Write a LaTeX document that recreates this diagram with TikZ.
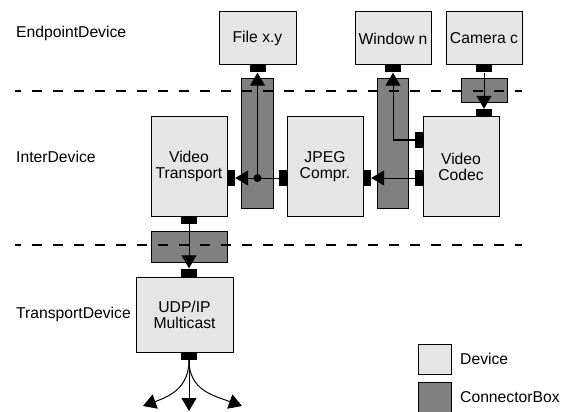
\documentclass[tikz,border=0pt]{standalone}
\usepackage{fontspec}
\setmainfont{Liberation Sans}
\usetikzlibrary{arrows.meta}
\definecolor{devfill}{gray}{0.9}
\definecolor{boxfill}{gray}{0.5}

\begin{document}
\begin{tikzpicture}[x=1pt,y=-1pt,
    device/.style={draw,line width=1pt,fill=devfill,inner sep=0pt,align=center,
      font=\fontsize{15.7}{16}\selectfont},
    conbox/.style={draw,line width=1pt,fill=boxfill,inner sep=0pt},
    hport/.style={fill=black,inner sep=0pt,minimum width=16pt,minimum height=8pt},
    vport/.style={fill=black,inner sep=0pt,minimum width=8pt,minimum height=16pt},
    layer/.style={anchor=west,inner sep=0pt,font=\fontsize{15.7}{16}\selectfont},
    link/.style={line width=1pt,-{Triangle[length=13pt,width=15pt]}},
    sep/.style={line width=1.2pt,dash pattern=on 10.5pt off 10.5pt,dash phase=4.5pt}]
    \useasboundingbox (0,0) rectangle (571,412);

    \node[conbox,minimum width=32pt,minimum height=129pt] (fileBox) at (257,143.5) {};
    \node[conbox,minimum width=31pt,minimum height=129pt] (winBox) at (392.5,143.5) {};
    \node[conbox,minimum width=46pt,minimum height=24pt] (camBox) at (484,91) {};
    \node[conbox,minimum width=76pt,minimum height=31pt] (netBox) at (189,246.5) {};

    \draw[sep] (15,91) -- (522,91);
    \draw[sep] (15,245) -- (522,245);

    \node[layer] (endLbl) at (16,33) {EndpointDevice};
    \node[layer] (interLbl) at (16,157) {InterDevice};
    \node[layer] (transLbl) at (16,314) {TransportDevice};

    \node[device,minimum width=77pt,minimum height=53pt] (file) at (257.5,38.5) {File x.y};
    \node[device,minimum width=76pt,minimum height=53pt] (window) at (393,38.5) {Window n};
    \node[device,minimum width=76pt,minimum height=53pt] (camera) at (484,38.5) {Camera c};
    \node[device,minimum width=76pt,minimum height=99pt] (transport) at (189,166.5) {Video\\Transport};
    \node[device,minimum width=76pt,minimum height=99pt] (jpeg) at (325,166.5) {JPEG\\Compr.};
    \node[device,minimum width=76pt,minimum height=99pt] (codec) at (461,166.5) {Video\\Codec};
    \node[device,minimum width=97pt,minimum height=75pt] (udp) at (184.5,314.5) {UDP/IP\\Multicast};

    \node[hport] (fileP) at (257.5,68.5) {};
    \node[hport] (winP) at (393,68.5) {};
    \node[hport] (camP) at (484,68.5) {};
    \node[hport] (codecT) at (484,113) {};
    \node[vport] (codecA) at (419,140) {};
    \node[vport] (codecB) at (419,178) {};
    \node[vport] (jpegR) at (367,178) {};
    \node[vport] (jpegL) at (283,178) {};
    \node[vport] (transR) at (231,178) {};
    \node[hport] (transB) at (189,220) {};
    \node[hport] (udpT) at (189,272.5) {};
    \node[hport] (udpB) at (189,356) {};
    \node[circle,fill=black,inner sep=0pt,minimum size=8pt] (split) at (257.5,178) {};

    \draw[link] (jpegL) -- (transR);
    \draw[link] (split.center) -- (fileP);
    \draw[link] (codecB) -- (jpegR);
    \draw[link] (codecA) -| (winP);
    \draw[link] (camP) -- (codecT);
    \draw[link] (transB) -- (udpT);

    \coordinate (outL) at (143,406);
    \coordinate (outM) at (189,411);
    \coordinate (outR) at (242,406);
    \draw[link] (udpB.south) to[out=-90,in=20,looseness=1.1] (outL);
    \draw[link] (udpB) -- (outM);
    \draw[link] (udpB.south) to[out=-90,in=160,looseness=1.1] (outR);

    \node[device,minimum width=33pt,minimum height=30pt] (devKey) at (434.5,359) {};
    \node[conbox,minimum width=33pt,minimum height=31pt] (boxKey) at (434.5,397.5) {};
    \node[layer] (devText) at (460,359) {Device};
    \node[layer] (boxText) at (460,397) {ConnectorBox};
\end{tikzpicture}
\end{document}
